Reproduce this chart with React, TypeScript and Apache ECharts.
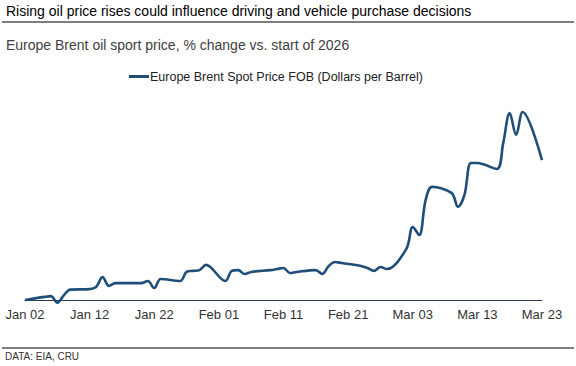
import React, { useEffect, useRef } from "react";
import * as echarts from "echarts";

const dates = [
  "2026-01-02", "2026-01-05", "2026-01-06", "2026-01-07", "2026-01-08", "2026-01-09",
  "2026-01-12", "2026-01-13", "2026-01-14", "2026-01-15", "2026-01-16",
  "2026-01-19", "2026-01-20", "2026-01-21", "2026-01-22", "2026-01-23",
  "2026-01-26", "2026-01-27", "2026-01-28", "2026-01-29", "2026-01-30",
  "2026-02-02", "2026-02-03", "2026-02-04", "2026-02-05", "2026-02-06",
  "2026-02-09", "2026-02-10", "2026-02-11", "2026-02-12", "2026-02-13",
  "2026-02-16", "2026-02-17", "2026-02-18", "2026-02-19", "2026-02-20",
  "2026-02-23", "2026-02-24", "2026-02-25", "2026-02-26", "2026-02-27",
  "2026-03-02", "2026-03-03", "2026-03-04", "2026-03-05", "2026-03-06",
  "2026-03-09", "2026-03-10", "2026-03-11", "2026-03-12", "2026-03-13",
  "2026-03-16", "2026-03-17", "2026-03-18", "2026-03-19", "2026-03-20",
  "2026-03-23",
];

const pctChange = [
  0, 1.2, 1.5, -1.0, 1.8, 4.0,
  4.2, 5.0, 8.8, 5.4, 6.5,
  6.5, 6.5, 7.3, 4.6, 8.1,
  7.3, 10.8, 11.2, 11.5, 13.5,
  7.3, 11.2, 11.5, 10.0, 10.8,
  11.5, 11.9, 12.3, 10.4, 10.8,
  11.5, 10.0, 13.1, 14.6, 14.2,
  13.1, 12.3, 11.2, 12.7, 11.9,
  19.6, 28.1, 25.0, 38.5, 43.5,
  41.2, 35.8, 40.4, 52.7, 52.7,
  50.4, 60.4, 71.9, 63.5, 72.3,
  53.8,
];

const seriesName = "Europe Brent Spot Price FOB (Dollars per Barrel)";
const title = "Rising oil price rises could influence driving and vehicle purchase decisions";
const subtitle = "Europe Brent oil sport price, % change vs. start of 2026";
const source = "DATA: EIA, CRU";

const startDate = "2026-01-02";
const endDate = "2026-03-23";
const tickStepDays = 10;

const DAY = 86400000;
const dayOffset = (d: string) =>
  Math.round((Date.parse(d + "T00:00:00Z") - Date.parse(startDate + "T00:00:00Z")) / DAY);
const monthNames = ["Jan", "Feb", "Mar", "Apr", "May", "Jun", "Jul", "Aug", "Sep", "Oct", "Nov", "Dec"];
const labelFor = (off: number) => {
  const t = new Date(Date.parse(startDate + "T00:00:00Z") + off * DAY);
  const dd = String(t.getUTCDate()).padStart(2, "0");
  return `${monthNames[t.getUTCMonth()]} ${dd}`;
};

export default function App() {
  const ref = useRef<HTMLDivElement>(null);
  useEffect(() => {
    if (!ref.current) return;
    const chart = echarts.init(ref.current, null, { renderer: "svg" });
    const font = "Arial, 'Liberation Sans', sans-serif";
    const data = dates.map((d, i) => [dayOffset(d), pctChange[i]]);
    chart.setOption({
      animation: false,
      backgroundColor: "#ffffff",
      textStyle: { fontFamily: font },
      grid: { left: 25, right: 34, top: 92, bottom: 66, containLabel: false },
      legend: {
        left: 129,
        top: 70,
        padding: 0,
        icon: "rect",
        itemWidth: 20,
        itemHeight: 3,
        itemGap: 4,
        textStyle: { fontFamily: font, fontSize: 12.5, color: "#222222", padding: [0, 0, 0, -4] },
        data: [seriesName],
      },
      xAxis: {
        type: "value",
        min: 0,
        max: dayOffset(endDate),
        interval: tickStepDays,
        axisLine: { onZero: false, lineStyle: { color: "#2b3d57", width: 1.2 } },
        axisTick: { show: false },
        splitLine: { show: false },
        axisLabel: {
          margin: 8,
          fontFamily: font,
          fontSize: 13,
          color: "#333333",
          formatter: (v: number) => labelFor(v),
        },
      },
      yAxis: {
        type: "value",
        min: 0,
        max: 80,
        show: false,
        splitLine: { show: false },
      },
      series: [
        {
          name: seriesName,
          type: "line",
          data,
          clip: false,
          smooth: 0.35,
          showSymbol: false,
          symbol: "none",
          z: 3,
          lineStyle: { color: "#1f4e79", width: 2.6 },
          itemStyle: { color: "#1f4e79" },
        },
      ],
      graphic: [
        {
          type: "text",
          left: 6,
          top: 4,
          style: { text: title, fontFamily: font, fontSize: 14, fill: "#000000" },
        },
        {
          type: "line",
          shape: { x1: 2, y1: 22, x2: 574, y2: 22 },
          style: { stroke: "#000000", lineWidth: 1 },
        },
        {
          type: "text",
          left: 6,
          top: 38,
          style: { text: subtitle, fontFamily: font, fontSize: 14, fill: "#404040" },
        },
        {
          type: "line",
          shape: { x1: 2, y1: 348, x2: 574, y2: 348 },
          style: { stroke: "#000000", lineWidth: 1 },
        },
        {
          type: "text",
          left: 5,
          top: 351,
          style: { text: source, fontFamily: font, fontSize: 10, fill: "#333333" },
        },
      ],
    });
    return () => chart.dispose();
  }, []);
  return (
    <div
      ref={ref}
      style={{ width: 576, height: 366, position: "absolute", left: 0, top: 0 }}
    />
  );
}
